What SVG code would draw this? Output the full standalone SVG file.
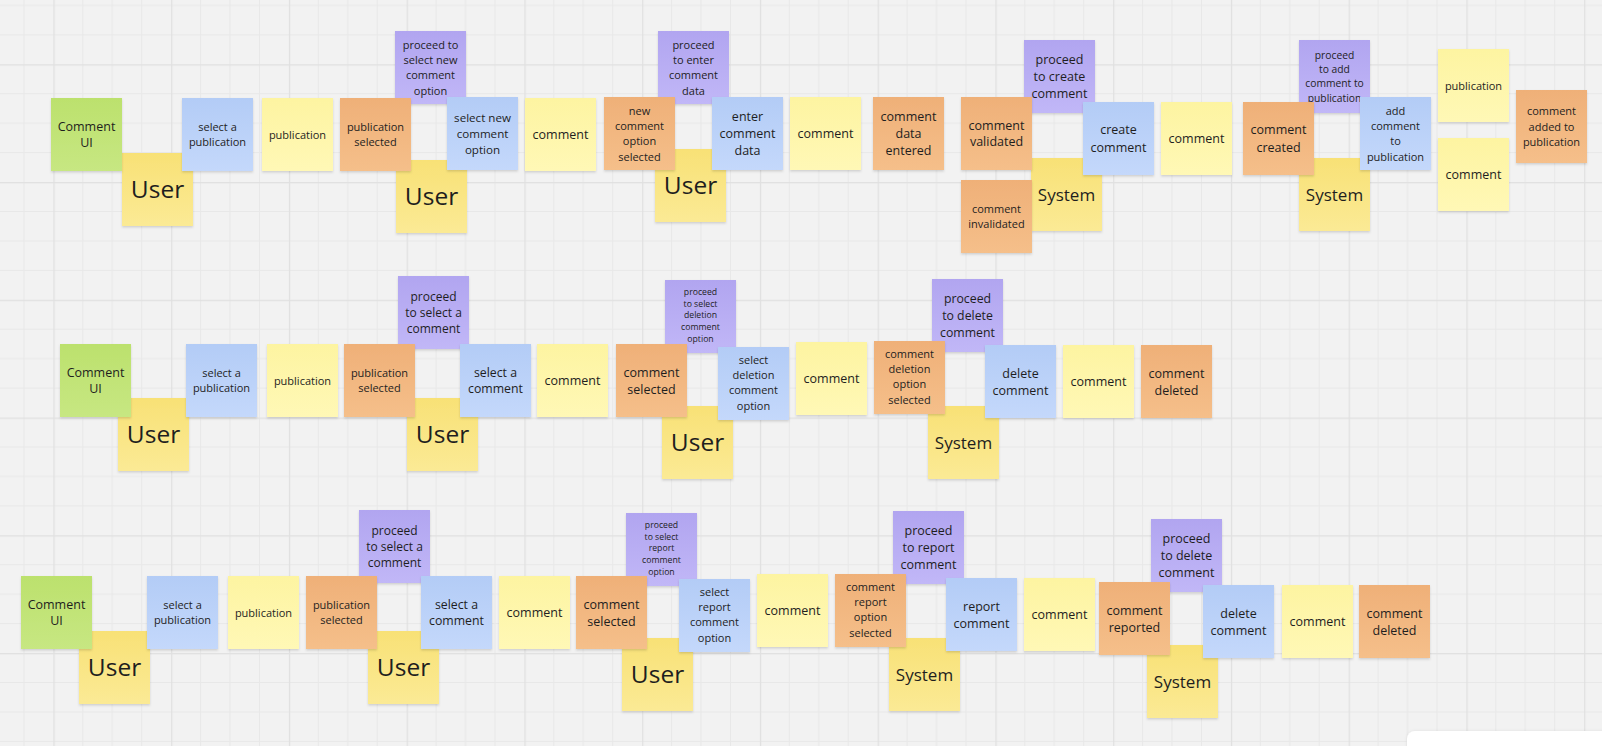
<svg xmlns="http://www.w3.org/2000/svg" width="1602" height="746" viewBox="0 0 1602 746">
<defs>
<pattern id="grid" patternUnits="userSpaceOnUse" x="53.4" y="64.3" width="117.75" height="117.75">
<rect width="117.75" height="117.75" fill="#f2f2f2"/>
<path d="M29.44 0V117.75M58.87 0V117.75M88.31 0V117.75M0 29.44H117.75M0 58.87H117.75M0 88.31H117.75" stroke="#e8e8e8" stroke-width="1" fill="none"/>
<path d="M0.6 0V117.75M0 0.6H117.75" stroke="#e0e0e0" stroke-width="1.2" fill="none"/>
</pattern>
<linearGradient id="gG" x1="0" y1="0" x2="0" y2="1"><stop offset="0" stop-color="#bce16d"/><stop offset="1" stop-color="#c7e782"/></linearGradient>
<linearGradient id="gB" x1="0" y1="0" x2="0" y2="1"><stop offset="0" stop-color="#b3ccf6"/><stop offset="1" stop-color="#c4d8fb"/></linearGradient>
<linearGradient id="gY" x1="0" y1="0" x2="0" y2="1"><stop offset="0" stop-color="#fdf4a1"/><stop offset="1" stop-color="#fff8b6"/></linearGradient>
<linearGradient id="gO" x1="0" y1="0" x2="0" y2="1"><stop offset="0" stop-color="#efb078"/><stop offset="1" stop-color="#f5bf8a"/></linearGradient>
<linearGradient id="gP" x1="0" y1="0" x2="0" y2="1"><stop offset="0" stop-color="#b1a5f0"/><stop offset="1" stop-color="#c1b7f7"/></linearGradient>
<linearGradient id="gU" x1="0" y1="0" x2="0" y2="1"><stop offset="0" stop-color="#f8e176"/><stop offset="1" stop-color="#fbea95"/></linearGradient>
<filter id="sh" x="-10%" y="-10%" width="120%" height="125%">
<feDropShadow dx="0" dy="1.5" stdDeviation="1.2" flood-color="#000" flood-opacity="0.14"/>
</filter>
<filter id="psh" x="-5%" y="-50%" width="110%" height="200%">
<feDropShadow dx="0" dy="0" stdDeviation="1.5" flood-color="#000" flood-opacity="0.08"/>
</filter>
</defs>
<style>
.n{filter:url(#sh)}
.g{fill:url(#gG)}
.b{fill:url(#gB)}
.y{fill:url(#gY)}
.o{fill:url(#gO)}
.p{fill:url(#gP)}
.u{fill:url(#gU)}
text{font-family:"Open Sans","Noto Sans",sans-serif;fill:#1e1e1e;text-anchor:middle}
.f87{font-size:8.7px}
.f103{font-size:10.3px}
.f11{font-size:11px}
.f116{font-size:11.6px}
.f12{font-size:12px}
.f123{font-size:12.3px}
.f125{font-size:12.5px}
.f17{font-size:17px}
.f245{font-size:24.5px}
</style>
<rect width="1602" height="746" fill="url(#grid)"/>
<g id="connectors"/>

<!-- Row 1 -->
<g id="r1-user-1"><rect class="n u" x="122" y="153" width="71" height="73"/><text class="f245" x="157.5" y="198.3">User</text></g>
<g id="r1-proceed-select-new"><rect class="n p" x="395" y="31" width="71" height="73"/><text class="f11"><tspan x="430.5" y="48.6">proceed to</tspan><tspan x="430.5" y="63.9">select new</tspan><tspan x="430.5" y="79.2">comment</tspan><tspan x="430.5" y="94.5">option</tspan></text></g>
<g id="r1-user-2"><rect class="n u" x="396" y="160" width="71" height="73"/><text class="f245" x="431.5" y="205.3">User</text></g>
<g id="r1-proceed-enter"><rect class="n p" x="658" y="31" width="71" height="73"/><text class="f11"><tspan x="693.5" y="48.6">proceed</tspan><tspan x="693.5" y="63.9">to enter</tspan><tspan x="693.5" y="79.2">comment</tspan><tspan x="693.5" y="94.5">data</tspan></text></g>
<g id="r1-user-3"><rect class="n u" x="655" y="149" width="71" height="73"/><text class="f245" x="690.5" y="194.3">User</text></g>
<g id="r1-proceed-create"><rect class="n p" x="1024" y="40" width="71" height="73"/><text class="f125"><tspan x="1059.5" y="64">proceed</tspan><tspan x="1059.5" y="81">to create</tspan><tspan x="1059.5" y="98">comment</tspan></text></g>
<g id="r1-system-1"><rect class="n u" x="1031" y="158" width="71" height="73"/><text class="f17" x="1066.5" y="200.6">System</text></g>
<g id="r1-proceed-add"><rect class="n p" x="1299" y="40" width="71" height="73"/><text class="f103"><tspan x="1334.5" y="58.9">proceed</tspan><tspan x="1334.5" y="73.1">to add</tspan><tspan x="1334.5" y="87.3">comment to</tspan><tspan x="1334.5" y="101.5">publication</tspan></text></g>
<g id="r1-system-2"><rect class="n u" x="1299" y="158" width="71" height="73"/><text class="f17" x="1334.5" y="200.6">System</text></g>

<g id="r1-comment-ui"><rect class="n g" x="51" y="98" width="71" height="73"/><text class="f125"><tspan x="86.5" y="130.9">Comment</tspan><tspan x="86.5" y="147.2">UI</tspan></text></g>
<g id="r1-select-publication"><rect class="n b" x="182" y="98" width="71" height="73"/><text class="f11"><tspan x="217.5" y="131">select a</tspan><tspan x="217.5" y="146">publication</tspan></text></g>
<g id="r1-publication"><rect class="n y" x="262" y="98" width="71" height="73"/><text class="f11" x="297.5" y="138.5">publication</text></g>
<g id="r1-publication-selected"><rect class="n o" x="340" y="98" width="71" height="73"/><text class="f11"><tspan x="375.5" y="130.9">publication</tspan><tspan x="375.5" y="146.2">selected</tspan></text></g>
<g id="r1-select-new-option"><rect class="n b" x="447" y="97" width="71" height="73"/><text class="f116"><tspan x="482.5" y="121.9">select new</tspan><tspan x="482.5" y="137.7">comment</tspan><tspan x="482.5" y="153.5">option</tspan></text></g>
<g id="r1-comment-1"><rect class="n y" x="525" y="98" width="71" height="73"/><text class="f125" x="560.5" y="139">comment</text></g>
<g id="r1-new-option-selected"><rect class="n o" x="604" y="97" width="71" height="73"/><text class="f11"><tspan x="639.5" y="114.6">new</tspan><tspan x="639.5" y="129.9">comment</tspan><tspan x="639.5" y="145.2">option</tspan><tspan x="639.5" y="160.5">selected</tspan></text></g>
<g id="r1-enter-data"><rect class="n b" x="712" y="97" width="71" height="73"/><text class="f125"><tspan x="747.5" y="121.2">enter</tspan><tspan x="747.5" y="138">comment</tspan><tspan x="747.5" y="154.8">data</tspan></text></g>
<g id="r1-comment-2"><rect class="n y" x="790" y="97" width="71" height="73"/><text class="f125" x="825.5" y="138">comment</text></g>
<g id="r1-data-entered"><rect class="n o" x="873" y="97" width="71" height="73"/><text class="f125"><tspan x="908.5" y="121.2">comment</tspan><tspan x="908.5" y="138">data</tspan><tspan x="908.5" y="154.8">entered</tspan></text></g>
<g id="r1-comment-validated"><rect class="n o" x="961" y="97" width="71" height="73"/><text class="f125"><tspan x="996.5" y="129.7">comment</tspan><tspan x="996.5" y="146.4">validated</tspan></text></g>
<g id="r1-comment-invalidated"><rect class="n o" x="961" y="180" width="71" height="73"/><text class="f11"><tspan x="996.5" y="213.2">comment</tspan><tspan x="996.5" y="227.9">invalidated</tspan></text></g>
<g id="r1-create-comment"><rect class="n b" x="1083" y="102" width="71" height="73"/><text class="f125"><tspan x="1118.5" y="134.4">create</tspan><tspan x="1118.5" y="151.7">comment</tspan></text></g>
<g id="r1-comment-3"><rect class="n y" x="1161" y="102" width="71" height="73"/><text class="f125" x="1196.5" y="143">comment</text></g>
<g id="r1-comment-created"><rect class="n o" x="1243" y="102" width="71" height="73"/><text class="f125"><tspan x="1278.5" y="134.4">comment</tspan><tspan x="1278.5" y="151.7">created</tspan></text></g>
<g id="r1-add-to-publication"><rect class="n b" x="1360" y="97" width="71" height="73"/><text class="f11"><tspan x="1395.5" y="114.6">add</tspan><tspan x="1395.5" y="129.9">comment</tspan><tspan x="1395.5" y="145.2">to</tspan><tspan x="1395.5" y="160.5">publication</tspan></text></g>
<g id="r1-publication-2"><rect class="n y" x="1438" y="49" width="71" height="73"/><text class="f11" x="1473.5" y="89.5">publication</text></g>
<g id="r1-comment-4"><rect class="n y" x="1438" y="138" width="71" height="73"/><text class="f125" x="1473.5" y="179">comment</text></g>
<g id="r1-comment-added"><rect class="n o" x="1516" y="90" width="71" height="73"/><text class="f11"><tspan x="1551.5" y="115.2">comment</tspan><tspan x="1551.5" y="130.5">added to</tspan><tspan x="1551.5" y="145.8">publication</tspan></text></g>

<!-- Row 2 -->
<g id="r2-user-1"><rect class="n u" x="118" y="398" width="71" height="73"/><text class="f245" x="153.5" y="443.3">User</text></g>
<g id="r2-proceed-select"><rect class="n p" x="398" y="276" width="71" height="73"/><text class="f12"><tspan x="433.5" y="300.6">proceed</tspan><tspan x="433.5" y="316.8">to select a</tspan><tspan x="433.5" y="333">comment</tspan></text></g>
<g id="r2-user-2"><rect class="n u" x="407" y="398" width="71" height="73"/><text class="f245" x="442.5" y="443.3">User</text></g>
<g id="r2-proceed-deletion"><rect class="n p" x="665" y="280" width="71" height="73"/><text class="f87"><tspan x="700.5" y="294.8">proceed</tspan><tspan x="700.5" y="306.6">to select</tspan><tspan x="700.5" y="318.4">deletion</tspan><tspan x="700.5" y="330.2">comment</tspan><tspan x="700.5" y="342">option</tspan></text></g>
<g id="r2-user-3"><rect class="n u" x="662" y="406" width="71" height="73"/><text class="f245" x="697.5" y="451.3">User</text></g>
<g id="r2-proceed-delete"><rect class="n p" x="932" y="279" width="71" height="73"/><text class="f123"><tspan x="967.5" y="302.9">proceed</tspan><tspan x="967.5" y="319.9">to delete</tspan><tspan x="967.5" y="336.9">comment</tspan></text></g>
<g id="r2-system"><rect class="n u" x="928" y="406" width="71" height="73"/><text class="f17" x="963.5" y="448.6">System</text></g>

<g id="r2-comment-ui"><rect class="n g" x="60" y="344" width="71" height="73"/><text class="f125"><tspan x="95.5" y="376.9">Comment</tspan><tspan x="95.5" y="393.2">UI</tspan></text></g>
<g id="r2-select-publication"><rect class="n b" x="186" y="344" width="71" height="73"/><text class="f11"><tspan x="221.5" y="377">select a</tspan><tspan x="221.5" y="392">publication</tspan></text></g>
<g id="r2-publication"><rect class="n y" x="267" y="344" width="71" height="73"/><text class="f11" x="302.5" y="384.5">publication</text></g>
<g id="r2-publication-selected"><rect class="n o" x="344" y="344" width="71" height="73"/><text class="f11"><tspan x="379.5" y="376.9">publication</tspan><tspan x="379.5" y="392.2">selected</tspan></text></g>
<g id="r2-select-comment"><rect class="n b" x="460" y="344" width="71" height="73"/><text class="f123"><tspan x="495.5" y="376.6">select a</tspan><tspan x="495.5" y="393.3">comment</tspan></text></g>
<g id="r2-comment-1"><rect class="n y" x="537" y="344" width="71" height="73"/><text class="f125" x="572.5" y="385">comment</text></g>
<g id="r2-comment-selected"><rect class="n o" x="616" y="344" width="71" height="73"/><text class="f125"><tspan x="651.5" y="376.5">comment</tspan><tspan x="651.5" y="393.5">selected</tspan></text></g>
<g id="r2-select-deletion"><rect class="n b" x="718" y="347" width="71" height="73"/><text class="f11"><tspan x="753.5" y="363.6">select</tspan><tspan x="753.5" y="378.9">deletion</tspan><tspan x="753.5" y="394.2">comment</tspan><tspan x="753.5" y="409.5">option</tspan></text></g>
<g id="r2-comment-2"><rect class="n y" x="796" y="342" width="71" height="73"/><text class="f125" x="831.5" y="383">comment</text></g>
<g id="r2-deletion-selected"><rect class="n o" x="874" y="341" width="71" height="73"/><text class="f11"><tspan x="909.5" y="357.6">comment</tspan><tspan x="909.5" y="372.9">deletion</tspan><tspan x="909.5" y="388.2">option</tspan><tspan x="909.5" y="403.5">selected</tspan></text></g>
<g id="r2-delete-comment"><rect class="n b" x="985" y="345" width="71" height="73"/><text class="f125"><tspan x="1020.5" y="377.5">delete</tspan><tspan x="1020.5" y="394.5">comment</tspan></text></g>
<g id="r2-comment-3"><rect class="n y" x="1063" y="345" width="71" height="73"/><text class="f125" x="1098.5" y="386">comment</text></g>
<g id="r2-comment-deleted"><rect class="n o" x="1141" y="345" width="71" height="73"/><text class="f125"><tspan x="1176.5" y="377.5">comment</tspan><tspan x="1176.5" y="394.5">deleted</tspan></text></g>

<!-- Row 3 -->
<g id="r3-user-1"><rect class="n u" x="79" y="631" width="71" height="73"/><text class="f245" x="114.5" y="676.3">User</text></g>
<g id="r3-proceed-select"><rect class="n p" x="359" y="510" width="71" height="73"/><text class="f12"><tspan x="394.5" y="534.6">proceed</tspan><tspan x="394.5" y="550.8">to select a</tspan><tspan x="394.5" y="567">comment</tspan></text></g>
<g id="r3-user-2"><rect class="n u" x="368" y="631" width="71" height="73"/><text class="f245" x="403.5" y="676.3">User</text></g>
<g id="r3-proceed-report-option"><rect class="n p" x="626" y="513" width="71" height="73"/><text class="f87"><tspan x="661.5" y="527.8">proceed</tspan><tspan x="661.5" y="539.6">to select</tspan><tspan x="661.5" y="551.4">report</tspan><tspan x="661.5" y="563.2">comment</tspan><tspan x="661.5" y="575">option</tspan></text></g>
<g id="r3-user-3"><rect class="n u" x="622" y="638" width="71" height="73"/><text class="f245" x="657.5" y="683.3">User</text></g>
<g id="r3-proceed-report"><rect class="n p" x="893" y="511" width="71" height="73"/><text class="f125"><tspan x="928.5" y="535">proceed</tspan><tspan x="928.5" y="552">to report</tspan><tspan x="928.5" y="569">comment</tspan></text></g>
<g id="r3-system-1"><rect class="n u" x="889" y="638" width="71" height="73"/><text class="f17" x="924.5" y="680.6">System</text></g>
<g id="r3-proceed-delete"><rect class="n p" x="1151" y="519" width="71" height="73"/><text class="f125"><tspan x="1186.5" y="543">proceed</tspan><tspan x="1186.5" y="560">to delete</tspan><tspan x="1186.5" y="577">comment</tspan></text></g>
<g id="r3-system-2"><rect class="n u" x="1147" y="645" width="71" height="73"/><text class="f17" x="1182.5" y="687.6">System</text></g>

<g id="r3-comment-ui"><rect class="n g" x="21" y="576" width="71" height="73"/><text class="f125"><tspan x="56.5" y="608.9">Comment</tspan><tspan x="56.5" y="625.2">UI</tspan></text></g>
<g id="r3-select-publication"><rect class="n b" x="147" y="576" width="71" height="73"/><text class="f11"><tspan x="182.5" y="609">select a</tspan><tspan x="182.5" y="624">publication</tspan></text></g>
<g id="r3-publication"><rect class="n y" x="228" y="576" width="71" height="73"/><text class="f11" x="263.5" y="616.5">publication</text></g>
<g id="r3-publication-selected"><rect class="n o" x="306" y="576" width="71" height="73"/><text class="f11"><tspan x="341.5" y="608.9">publication</tspan><tspan x="341.5" y="624.2">selected</tspan></text></g>
<g id="r3-select-comment"><rect class="n b" x="421" y="576" width="71" height="73"/><text class="f123"><tspan x="456.5" y="608.6">select a</tspan><tspan x="456.5" y="625.3">comment</tspan></text></g>
<g id="r3-comment-1"><rect class="n y" x="499" y="576" width="71" height="73"/><text class="f125" x="534.5" y="617">comment</text></g>
<g id="r3-comment-selected"><rect class="n o" x="576" y="576" width="71" height="73"/><text class="f125"><tspan x="611.5" y="608.5">comment</tspan><tspan x="611.5" y="625.5">selected</tspan></text></g>
<g id="r3-select-report"><rect class="n b" x="679" y="579" width="71" height="73"/><text class="f11"><tspan x="714.5" y="595.6">select</tspan><tspan x="714.5" y="610.9">report</tspan><tspan x="714.5" y="626.2">comment</tspan><tspan x="714.5" y="641.5">option</tspan></text></g>
<g id="r3-comment-2"><rect class="n y" x="757" y="574" width="71" height="73"/><text class="f125" x="792.5" y="615">comment</text></g>
<g id="r3-report-selected"><rect class="n o" x="835" y="574" width="71" height="73"/><text class="f11"><tspan x="870.5" y="590.6">comment</tspan><tspan x="870.5" y="605.9">report</tspan><tspan x="870.5" y="621.2">option</tspan><tspan x="870.5" y="636.5">selected</tspan></text></g>
<g id="r3-report-comment"><rect class="n b" x="946" y="578" width="71" height="73"/><text class="f125"><tspan x="981.5" y="610.5">report</tspan><tspan x="981.5" y="627.5">comment</tspan></text></g>
<g id="r3-comment-3"><rect class="n y" x="1024" y="578" width="71" height="73"/><text class="f125" x="1059.5" y="619">comment</text></g>
<g id="r3-comment-reported"><rect class="n o" x="1099" y="582" width="71" height="73"/><text class="f125"><tspan x="1134.5" y="614.5">comment</tspan><tspan x="1134.5" y="631.5">reported</tspan></text></g>
<g id="r3-delete-comment"><rect class="n b" x="1203" y="585" width="71" height="73"/><text class="f125"><tspan x="1238.5" y="617.5">delete</tspan><tspan x="1238.5" y="634.5">comment</tspan></text></g>
<g id="r3-comment-4"><rect class="n y" x="1282" y="585" width="71" height="73"/><text class="f125" x="1317.5" y="626">comment</text></g>
<g id="r3-comment-deleted"><rect class="n o" x="1359" y="585" width="71" height="73"/><text class="f125"><tspan x="1394.5" y="617.5">comment</tspan><tspan x="1394.5" y="634.5">deleted</tspan></text></g>

<rect id="corner-panel" x="1407" y="731" width="240" height="40" rx="8" fill="#ffffff" filter="url(#psh)"/>
</svg>
